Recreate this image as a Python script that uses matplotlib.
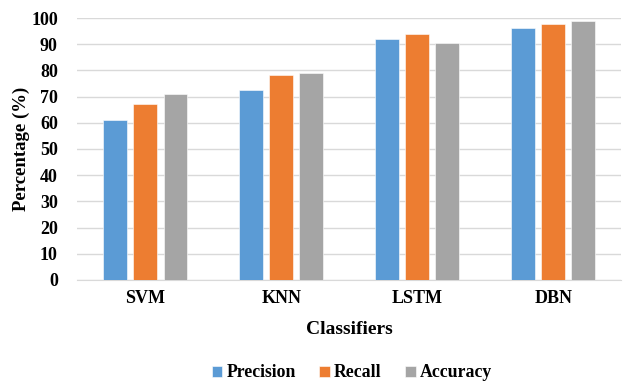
import matplotlib

matplotlib.use("Agg")
import matplotlib.pyplot as plt
import numpy as np

plt.rcParams["font.family"] = ["Liberation Serif", "DejaVu Serif"]
plt.rcParams["font.weight"] = "bold"

classifiers = ["SVM", "KNN", "LSTM", "DBN"]
series_names = ["Precision", "Recall", "Accuracy"]
precision = [61, 72.4, 92, 96]
recall = [67.2, 78.1, 94, 97.8]
accuracy = [71, 79, 90.6, 98.7]
colors = ["#5B9BD5", "#ED7D31", "#A5A5A5"]

fig = plt.figure(figsize=(6.23, 3.83), dpi=100)
ax = fig.add_axes([0.124, 0.269, 0.873, 0.684])

x = np.arange(len(classifiers))
w = 0.175
step = 0.222
for i, (name, vals) in enumerate(zip(series_names, [precision, recall, accuracy])):
    ax.bar(x + (i - 1) * step, vals, w, color=colors[i], label=name, zorder=3,
           edgecolor="white", linewidth=0.4)

ax.set_xlim(-0.5, 3.5)
ax.set_ylim(0, 100)
ax.set_yticks(np.arange(0, 101, 10))
ax.set_xticks(x)
ax.set_xticklabels(classifiers, fontsize=13, fontweight="bold")
ax.tick_params(axis="y", labelsize=13, length=0, pad=14)
ax.tick_params(axis="x", length=0, pad=7)
ax.grid(axis="y", color="#D9D9D9", linewidth=1, zorder=0)
for s in ["top", "right", "left"]:
    ax.spines[s].set_visible(False)
ax.spines["bottom"].set_color("#D9D9D9")
ax.set_ylabel("Percentage (%)", fontsize=13.5, fontweight="bold", labelpad=1)
ax.set_xlabel("Classifiers", fontsize=14, fontweight="bold", labelpad=10)
ax.legend(loc="center", bbox_to_anchor=(0.505, -0.355), ncol=3, frameon=False,
          fontsize=12.8, handlelength=0.6, handleheight=0.6, handletextpad=0.25,
          columnspacing=1.3)

fig.savefig("out.png", dpi=100, facecolor="white")
